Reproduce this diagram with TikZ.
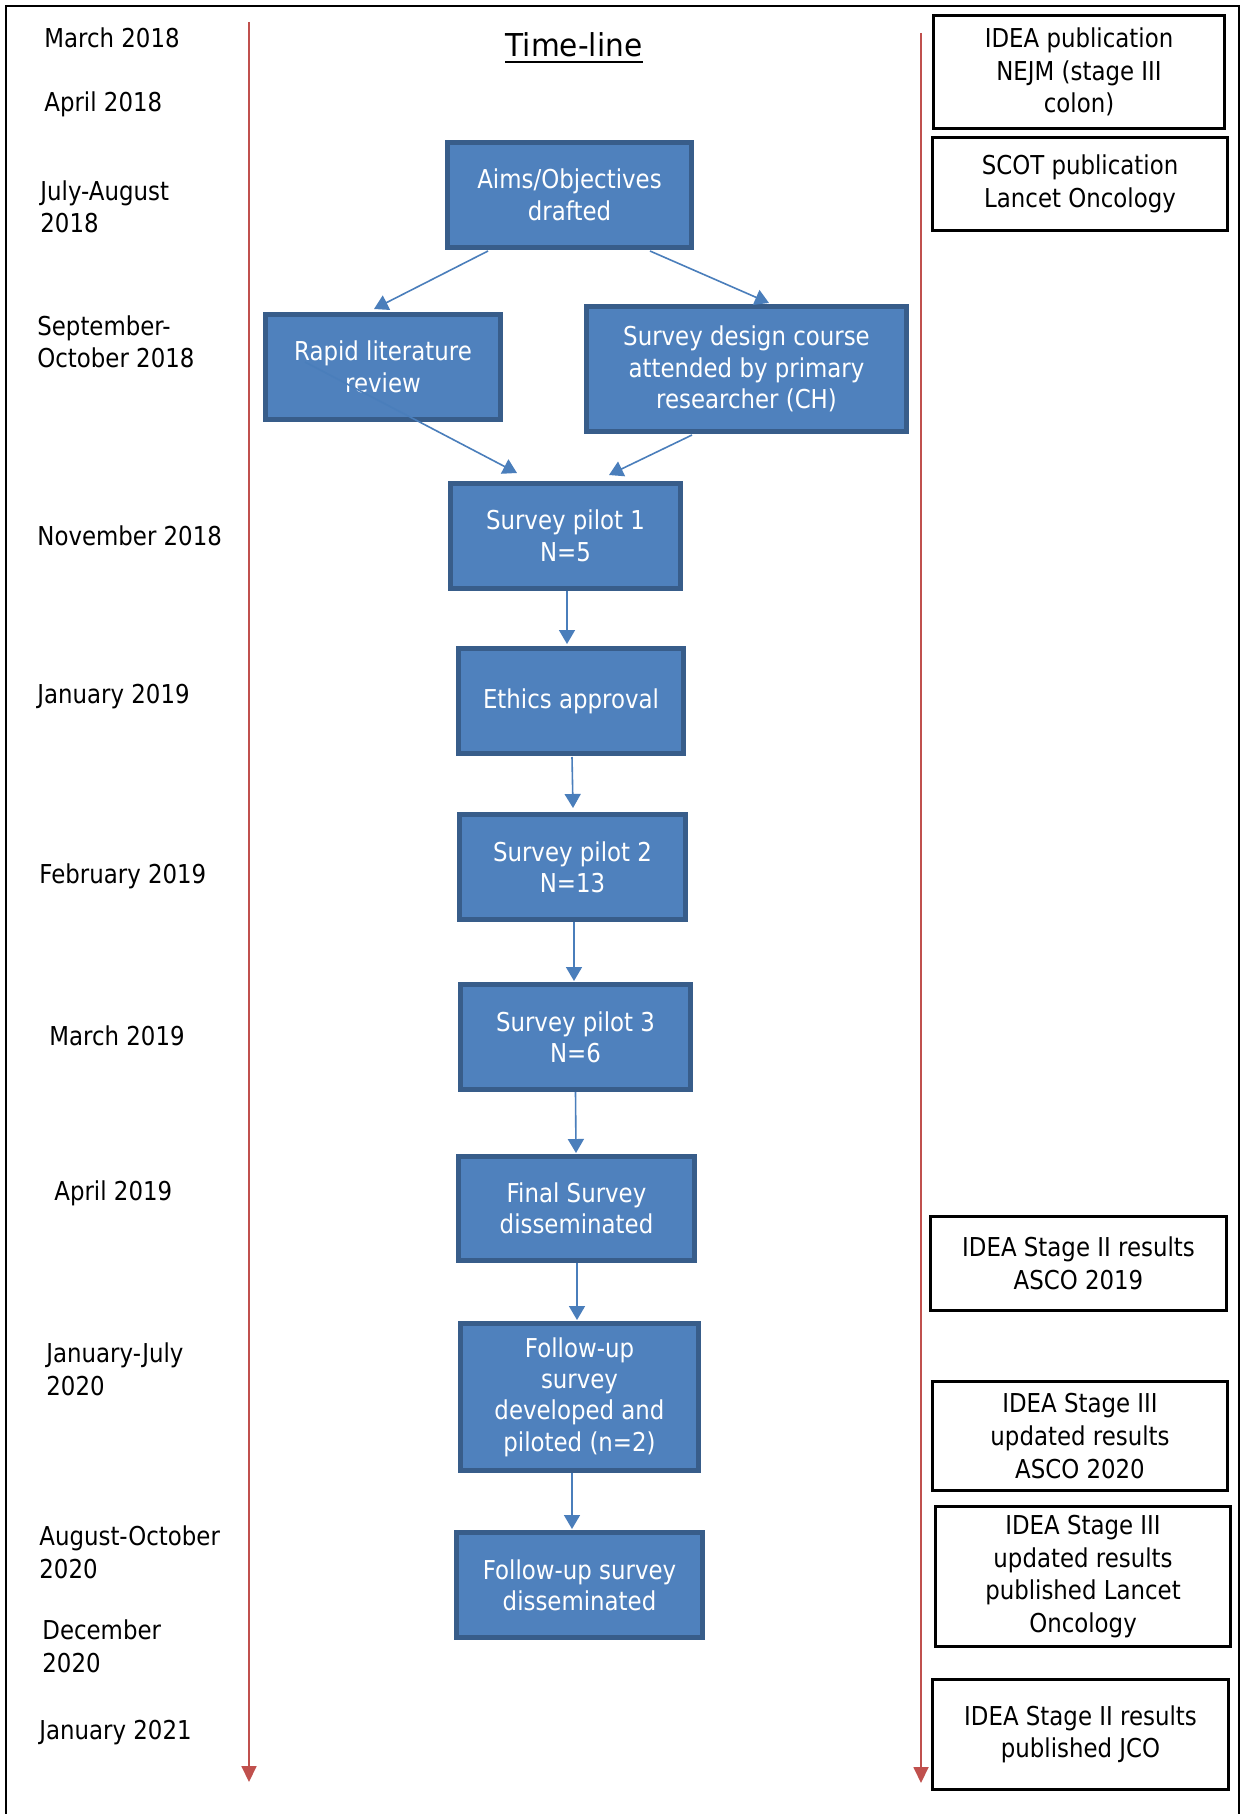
\documentclass[tikz,border=0pt]{standalone}
\usepackage{fontspec}
\setmainfont{DejaVu Sans}[FakeStretch=0.88]
\newfontfamily\titlefont{DejaVu Sans}[FakeStretch=0.94]
\usetikzlibrary{arrows.meta,calc}
\definecolor{bfill}{HTML}{4F81BD}
\definecolor{bborder}{HTML}{385D8A}
\definecolor{ablue}{HTML}{4A7EBB}
\definecolor{rred}{HTML}{C0504D}
\begin{document}
\begin{tikzpicture}[x=0.5pt,y=-0.5pt,
  bbox/.style={draw=bborder, fill=bfill, line width=2.5pt, text=white, align=center,
    font=\fontsize{13}{15.7}\selectfont, inner sep=0pt},
  wbox/.style={draw=black, line width=1.3pt, align=center,
    font=\fontsize{13}{16.3}\selectfont, inner sep=0pt},
  datelbl/.style={anchor=west, align=left, inner sep=0pt,
    font=\fontsize{13}{16.3}\selectfont},
  barrow/.style={draw=ablue, line width=0.8pt, -{Triangle[length=7pt,width=8pt]}},
  rarrow/.style={draw=rred, line width=0.9pt, -{Triangle[length=8pt,width=7.5pt]}},
  framestyle/.style={draw=black, line width=1pt}
]
\useasboundingbox (0,0) rectangle (1245,1814);
\fill[white] (0,0) rectangle (1245,1814);

% outer frame
\coordinate (f1) at (6,1814);
\coordinate (f2) at (6,6);
\coordinate (f3) at (1239,6);
\coordinate (f4) at (1239,1814);
\draw[framestyle] (f1) -- (f2) -- (f3) -- (f4);

% red timelines
\coordinate (la) at (249,22);
\coordinate (lb) at (249,1782);
\coordinate (ra) at (921,33);
\coordinate (rb) at (921,1783);
\draw[rarrow] (la) -- (lb);
\draw[rarrow] (ra) -- (rb);

% title
\node[inner sep=0pt, anchor=base, font=\titlefont\fontsize{15.75}{18}\selectfont] (title) at (574,57) {Time-line};
\draw[line width=1pt] ($(title.base west)+(0,5)$) -- ($(title.base east)+(0,5)$);

% dates
\node[datelbl] (d1) at (44,38) {March 2018};
\node[datelbl] (d2) at (44,104) {April 2018};
\node[datelbl] (d3) at (40,207) {July-August\\2018};
\node[datelbl] (d4) at (37,342) {September-\\October 2018};
\node[datelbl] (d5) at (37,536) {November 2018};
\node[datelbl] (d6) at (37,697) {January 2019};
\node[datelbl] (d7) at (39,876) {February 2019};
\node[datelbl] (d8) at (49,1036) {March 2019};
\node[datelbl] (d9) at (54,1193) {April 2019};
\node[datelbl] (d10) at (46,1369) {January-July\\2020};
\node[datelbl] (d11) at (39,1552) {August-October\\2020};
\node[datelbl] (d12) at (42,1646) {December\\2020};
\node[datelbl] (d13) at (39,1733) {January 2021};

% blue boxes
\node[bbox, minimum width=122pt, minimum height=52.5pt] (aims) at (569.5,195) {Aims/Objectives\\drafted};
\node[bbox, minimum width=117.5pt, minimum height=52.5pt] (rapid) at (383,367) {Rapid literature\\review};
\node[bbox, minimum width=160pt, minimum height=62.5pt] (design) at (746.5,369) {Survey design course\\attended by primary\\researcher (CH)};
\node[bbox, minimum width=115pt, minimum height=52.5pt] (p1) at (565.5,536) {Survey pilot 1\\N=5};
\node[bbox, minimum width=112.5pt, minimum height=52.5pt] (ethics) at (571,701) {Ethics approval};
\node[bbox, minimum width=113pt, minimum height=52.5pt] (p2) at (572.5,867) {Survey pilot 2\\N=13};
\node[bbox, minimum width=115pt, minimum height=52.5pt] (p3) at (575.5,1037) {Survey pilot 3\\N=6};
\node[bbox, minimum width=118pt, minimum height=52pt] (final) at (576.5,1208.5) {Final Survey\\disseminated};
\node[bbox, minimum width=119pt, minimum height=73.5pt] (fu) at (579.5,1397) {Follow-up\\survey\\developed and\\piloted (n=2)};
\node[bbox, minimum width=123pt, minimum height=52.5pt] (fud) at (579.5,1585) {Follow-up survey\\disseminated};

% connectors
\draw[barrow] ($(aims.center)+(-81.5,56)$) -- ($(rapid.center)+(-9,-58)$);
\draw[barrow] ($(aims.center)+(80.5,56)$) -- ($(design.center)+(22.5,-66)$);
\draw[barrow] ($(rapid.center)+(-78,-5)$) -- ($(p1.center)+(-48.5,-63)$);
\draw[barrow] ($(design.center)+(-54.5,66)$) -- ($(p1.center)+(43.5,-61)$);
\draw[barrow] ($(p1.center)+(1.5,55)$) -- ($(ethics.center)+(-4,-57)$);
\draw[barrow] ($(ethics.center)+(1,56)$) -- ($(p2.center)+(0.5,-59)$);
\draw[barrow] ($(p2.center)+(1.5,55)$) -- ($(p3.center)+(-1.5,-56)$);
\draw[barrow] ($(p3.center)+(0,55)$) -- ($(final.center)+(-0.5,-55.5)$);
\draw[barrow] ($(final.center)+(0.5,54.5)$) -- ($(fu.center)+(-2.5,-77)$);
\draw[barrow] ($(fu.center)+(-7.5,76)$) -- ($(fud.center)+(-7.5,-56)$);

% right boxes
\node[wbox, minimum width=145.7pt, minimum height=56.7pt] (ra1) at (1079,72) {IDEA publication\\NEJM (stage III\\colon)};
\node[wbox, minimum width=147.7pt, minimum height=46.7pt] (ra2) at (1080,184) {SCOT publication\\Lancet Oncology};
\node[wbox, minimum width=148pt, minimum height=47pt] (ra3) at (1078.5,1263.5) {IDEA Stage II results\\ASCO 2019};
\node[wbox, minimum width=147.7pt, minimum height=54.7pt] (ra4) at (1080,1436) {IDEA Stage III\\updated results\\ASCO 2020};
\node[wbox, minimum width=147.7pt, minimum height=70pt] (ra5) at (1083,1576.5) {IDEA Stage III\\updated results\\published Lancet\\Oncology};
\node[wbox, minimum width=148pt, minimum height=55pt] (ra6) at (1080.5,1734.5) {IDEA Stage II results\\published JCO};
\end{tikzpicture}
\end{document}
